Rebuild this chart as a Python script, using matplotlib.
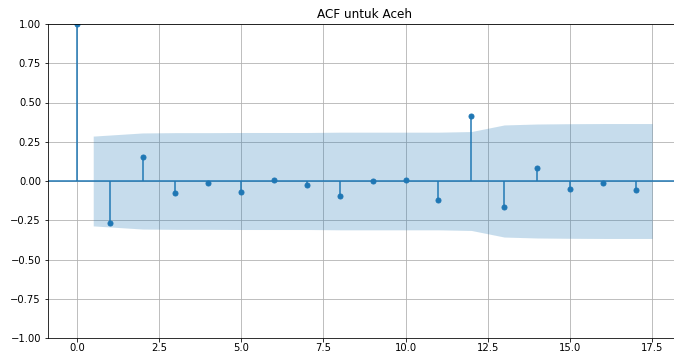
import matplotlib
matplotlib.use("Agg")
import matplotlib.pyplot as plt
import numpy as np

lags = [0, 1, 2, 3, 4, 5, 6, 7, 8, 9, 10, 11, 12, 13, 14, 15, 16, 17]
acf_vals = [1.0, -0.27, 0.151, -0.076, -0.013, -0.07, 0.006, -0.025, -0.094,
            0.002, 0.006, -0.123, 0.414, -0.168, 0.083, -0.053, -0.015, -0.055]
band_x = [0.5, 2, 3, 4, 5, 6, 7, 8, 9, 10, 11, 12, 13, 14, 15, 16, 17.5]
band_half = [0.286, 0.306, 0.308, 0.308, 0.309, 0.309, 0.309, 0.311, 0.311,
             0.311, 0.311, 0.315, 0.357, 0.363, 0.365, 0.366, 0.366]
title = "ACF untuk Aceh"

DPI = 72
fig = plt.figure(figsize=(674 / DPI, 353 / DPI), dpi=DPI)
ax = fig.add_axes([48/674, 1 - 338/353, (681 - 48)/674, (338 - 24)/353])

ax.vlines(lags, [0], acf_vals, color="#1f77b4", linewidth=1.5)
ax.plot(lags, acf_vals, "o", color="#1f77b4", markersize=5)
ax.axhline(0, color="#1f77b4", linewidth=1.5)
bh = np.array(band_half)
ax.fill_between(band_x, -bh, bh, alpha=0.25, color="#1f77b4", linewidth=0)

ax.set_xlim(-0.875, 18.375)
ax.set_ylim(-1.0, 1.0)
ax.set_xticks([0, 2.5, 5, 7.5, 10, 12.5, 15, 17.5])
ax.set_yticks([-1.0, -0.75, -0.5, -0.25, 0, 0.25, 0.5, 0.75, 1.0])
ax.xaxis.set_major_formatter(matplotlib.ticker.FormatStrFormatter("%.1f"))
ax.yaxis.set_major_formatter(matplotlib.ticker.FuncFormatter(
    lambda v, p: ("%.2f" % v).replace("-", "\u2212")))
ax.tick_params(axis="x", pad=1.5)
ax.grid(True, color="#b0b0b0", linewidth=0.8)
ax.set_axisbelow(True)
ax.set_title(title)

fig.savefig("out.png", dpi=DPI)
